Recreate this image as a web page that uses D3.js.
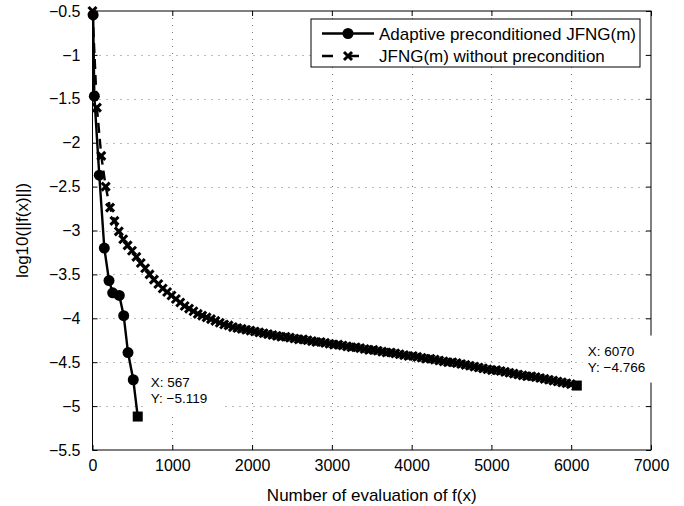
<!DOCTYPE html>
<html><head><meta charset="utf-8">
<script src="https://cdn.jsdelivr.net/npm/d3@7"></script>
<style>
body{margin:0;background:#fff;}
svg text{font-family:"Liberation Sans",Arial,Helvetica,sans-serif;fill:#000;}
</style></head>
<body><svg id="c" width="684" height="506"></svg>
<script>
// ---- data ----
const adaptiveEvals = [8, 23, 85, 148, 207, 253, 336, 391, 445, 511, 567];
const adaptiveLog = [-0.545, -1.47, -2.37, -3.20, -3.57, -3.71, -3.74, -3.97, -4.39, -4.70, -5.119];

const plainEvals = [0,55,110,165,220,275,330,385,440,495,550,605,660,715,770,825,880,935,990,1045,
 1100,1155,1210,1265,1320,1375,1430,1485,1540,1595,1650,1705,1760,1815,1870,1925,1980,2035,2090,2145,
 2200,2255,2310,2365,2420,2475,2530,2585,2640,2695,2750,2805,2860,2915,2970,3025,3080,3135,3190,3245,
 3300,3355,3410,3465,3520,3575,3630,3685,3740,3795,3850,3905,3960,4015,4070,4125,4180,4235,4290,4345,
 4400,4455,4510,4565,4620,4675,4730,4785,4840,4895,4950,5005,5060,5115,5170,5225,5280,5335,5390,5445,
 5500,5555,5610,5665,5720,5775,5830,5885,5940,5995,6070];
const plainLog = [-0.50,-1.60,-2.15,-2.50,-2.74,-2.89,-3.01,-3.10,-3.17,-3.23,-3.30,-3.37,-3.43,-3.50,-3.56,-3.61,-3.66,-3.70,-3.74,-3.78,
 -3.82,-3.86,-3.89,-3.92,-3.95,-3.97,-3.99,-4.01,-4.03,-4.05,-4.07,-4.08,-4.10,-4.11,-4.12,-4.13,-4.14,-4.15,-4.16,-4.17,
 -4.18,-4.19,-4.20,-4.21,-4.21,-4.22,-4.23,-4.24,-4.24,-4.25,-4.26,-4.27,-4.27,-4.28,-4.29,-4.30,-4.30,-4.31,-4.32,-4.33,
 -4.33,-4.34,-4.35,-4.36,-4.36,-4.37,-4.38,-4.39,-4.39,-4.40,-4.41,-4.42,-4.43,-4.43,-4.44,-4.45,-4.46,-4.46,-4.47,-4.48,
 -4.49,-4.50,-4.50,-4.51,-4.52,-4.53,-4.54,-4.55,-4.56,-4.57,-4.58,-4.59,-4.59,-4.60,-4.61,-4.62,-4.63,-4.64,-4.65,-4.66,
 -4.66,-4.67,-4.68,-4.69,-4.70,-4.71,-4.72,-4.73,-4.74,-4.75,-4.766];

const seriesNames = ["Adaptive preconditioned JFNG(m)", "JFNG(m) without precondition"];
const xTicks = [0,1000,2000,3000,4000,5000,6000,7000];
const xTickLabels = ["0","1000","2000","3000","4000","5000","6000","7000"];
const yTicks = [-5.5,-5,-4.5,-4,-3.5,-3,-2.5,-2,-1.5,-1,-0.5];
const yTickLabels = ["\u22125.5","\u22125","\u22124.5","\u22124","\u22123.5","\u22123","\u22122.5","\u22122","\u22121.5","\u22121","\u22120.5"];
const tips = [{x:567, y:-5.119}, {x:6070, y:-4.766}];
const xTitle = "Number of evaluation of f(x)";
const yTitle = "log10(||f(x)||)";

// ---- layout ----
const L = 92.5, R = 651, T = 11, B = 450;
const svg = d3.select("#c");
const x = d3.scaleLinear().domain([0,7000]).range([L,R]);
const y = d3.scaleLinear().domain([-5.5,-0.5]).range([B,T]);

// grid
const grid = svg.append("g").attr("stroke","#777").attr("stroke-width",1).attr("stroke-dasharray","1,6");
grid.selectAll(".gx").data(xTicks.slice(1,-1)).enter().append("line")
  .attr("x1",d=>Math.round(x(d))+0.5).attr("x2",d=>Math.round(x(d))+0.5).attr("y1",T).attr("y2",B);
grid.selectAll(".gy").data(yTicks.slice(1,-1)).enter().append("line")
  .attr("y1",d=>Math.round(y(d))+0.5).attr("y2",d=>Math.round(y(d))+0.5).attr("x1",L).attr("x2",R);

// axes (ticks inward all sides)
const ax = svg.append("g");
ax.append("g").attr("transform",`translate(0,${B})`)
  .call(d3.axisBottom(x).tickValues(xTicks).tickSizeInner(-5).tickSizeOuter(0).tickPadding(10).tickFormat((d,i)=>xTickLabels[i]));
ax.append("g").attr("transform",`translate(0,${T})`)
  .call(d3.axisTop(x).tickValues(xTicks).tickSizeInner(-5).tickSizeOuter(0).tickFormat(""));
ax.append("g").attr("transform",`translate(${L},0)`)
  .call(d3.axisLeft(y).tickValues(yTicks).tickSizeInner(-5).tickSizeOuter(0).tickPadding(12).tickFormat((d,i)=>yTickLabels[i]));
ax.append("g").attr("transform",`translate(${R},0)`)
  .call(d3.axisRight(y).tickValues(yTicks).tickSizeInner(-5).tickSizeOuter(0).tickFormat(""));
ax.selectAll(".domain").remove();
ax.selectAll("line").attr("stroke","#000");
ax.selectAll("text").attr("font-size","16px").attr("font-family","'Liberation Sans',Arial,sans-serif");
svg.append("rect").attr("x",L).attr("y",T).attr("width",R-L).attr("height",B-T)
  .attr("fill","none").attr("stroke","#000").attr("stroke-width",1);

// series 2: dashed with x markers
const plain = plainEvals.map((e,i)=>({x:e,y:plainLog[i]}));
const adapt = adaptiveEvals.map((e,i)=>({x:e,y:adaptiveLog[i]}));
const line = d3.line().x(d=>x(d.x)).y(d=>y(d.y));
svg.append("path").datum(plain).attr("d",line).attr("fill","none").attr("stroke","#000")
  .attr("stroke-width",2.4).attr("stroke-dasharray","10,6");
const xm = "M-4,-4L4,4M-4,4L4,-4";
svg.append("g").selectAll("path").data(plain.slice(0,-1)).enter().append("path")
  .attr("d",xm).attr("transform",d=>`translate(${x(d.x)},${y(d.y)})`)
  .attr("stroke","#000").attr("stroke-width",3).attr("fill","none");

// series 1: solid with circles
svg.append("path").datum(adapt).attr("d",line).attr("fill","none").attr("stroke","#000").attr("stroke-width",2.4);
svg.append("g").selectAll("circle").data(adapt.slice(0,-1)).enter().append("circle")
  .attr("cx",d=>x(d.x)).attr("cy",d=>y(d.y)).attr("r",5.5).attr("fill","#000");

// datatips
const tipBoxes = [{dx:8, dy:-50}, {dx:6, dy:-50}];
tips.forEach((t,i)=>{
  const px = x(t.x), py = y(t.y);
  const g = svg.append("g");
  const bx = px + tipBoxes[i].dx, by = py + tipBoxes[i].dy;
  g.append("rect").attr("x",bx).attr("y",by).attr("width",78).attr("height",47).attr("fill","#fff");
  g.append("text").attr("x",bx+5).attr("y",by+20).attr("font-size","13.5px").text("X: "+t.x);
  g.append("text").attr("x",bx+5).attr("y",by+36).attr("font-size","13.5px").text("Y: "+String(t.y).replace("-","\u2212"));
  svg.append("rect").attr("x",px-5).attr("y",py-5).attr("width",10).attr("height",10).attr("fill","#000");
});

// titles
svg.append("text").attr("x",(L+R)/2).attr("y",501).attr("text-anchor","middle").attr("font-size","17px").text(xTitle);
svg.append("text").attr("transform",`translate(28,${(T+B)/2}) rotate(-90)`).attr("text-anchor","middle").attr("font-size","17px").text(yTitle);

// legend
const lg = svg.append("g");
lg.append("rect").attr("x",311).attr("y",19).attr("width",329).attr("height",48).attr("fill","#fff").attr("stroke","#000");
const ly = [33.5, 56];
lg.append("line").attr("x1",322).attr("x2",374).attr("y1",ly[0]).attr("y2",ly[0]).attr("stroke","#000").attr("stroke-width",2.4);
lg.append("circle").attr("cx",348).attr("cy",ly[0]).attr("r",5.5).attr("fill","#000");
lg.append("line").attr("x1",322).attr("x2",374).attr("y1",ly[1]).attr("y2",ly[1]).attr("stroke","#000").attr("stroke-width",2.4).attr("stroke-dasharray","11,15");
lg.append("path").attr("d",xm).attr("transform",`translate(348,${ly[1]})`).attr("stroke","#000").attr("stroke-width",3);
seriesNames.forEach((n,i)=>{
  lg.append("text").attr("x",379).attr("y",ly[i]+6).attr("font-size","17px").text(n);
});
</script></body></html>
